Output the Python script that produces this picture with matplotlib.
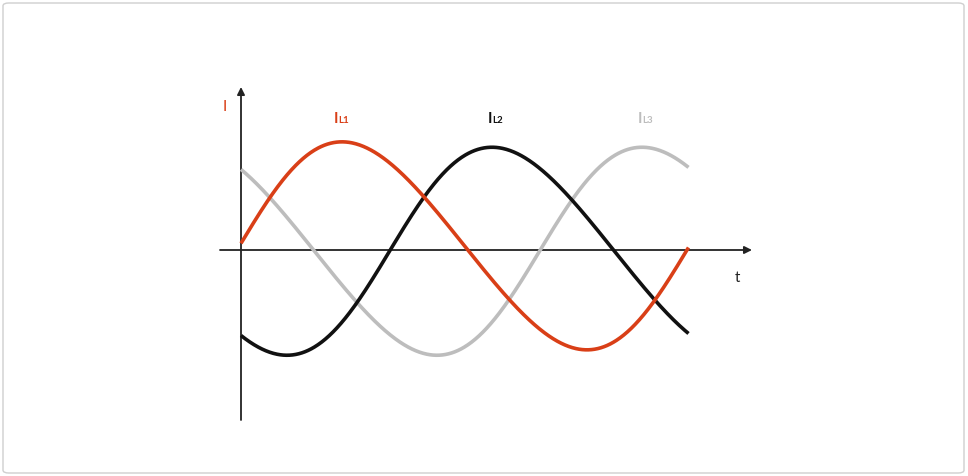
import numpy as np
import matplotlib
matplotlib.use("Agg")
import matplotlib.pyplot as plt
from matplotlib.patches import FancyBboxPatch

# ---- data (three-phase currents over one period, t in degrees) ----
series_names = ["L1", "L2", "L3"]
series_colors = ["#d93f17", "#111111", "#bdbdbd"]
phase_deg = [1.2, -118.8, 121.2]    # phase of each current at t = 0
amplitudes = [1.0, 1.0, 1.0]
offsets = [0.04, -0.012, -0.012]
skew = [0.141, 0.141, 0.141]        # waveform skew (rise faster than fall)
t_end_deg = 358
label_t_deg = [74.5, 197.5, 317.5]  # where the I_Lx labels sit (t)
label_level = 1.235

W, H = 968, 477
fig = plt.figure(figsize=(W / 100, H / 100), dpi=100)
fig.patch.set_facecolor("white")

# rounded frame
frame = FancyBboxPatch((3 / W, 3 / H), (W - 7) / W, (H - 7) / H,
                       boxstyle="round,pad=0,rounding_size=0.006",
                       transform=fig.transFigure, facecolor="none",
                       edgecolor="#cfcfcf", linewidth=1.0, zorder=-5)
fig.patches.append(frame)

# axes placement (pixels)
x0_px, x1_px = 220, 752
y_top_px, y_bot_px = 88, 421
px_per_deg = 450 / 360.0
amp_px = 104.0
axis_y_px = 251
t_min = (x0_px - 241) / px_per_deg
t_max = (x1_px - 241) / px_per_deg
y_max = (axis_y_px - y_top_px) / amp_px
y_min = (axis_y_px - y_bot_px) / amp_px

ax = fig.add_axes([x0_px / W, (H - y_bot_px) / H, (x1_px - x0_px) / W,
                   (y_bot_px - y_top_px) / H])
ax.set_zorder(5)
ax.set_xlim(t_min, t_max)
ax.set_ylim(y_min, y_max)
ax.axis("off")
ax.patch.set_alpha(0)

# axes arrows
axcol = "#222222"
ax.annotate("", xy=(t_max, 0), xytext=(t_min, 0), annotation_clip=False,
            arrowprops=dict(arrowstyle="-|>", color=axcol, lw=1.3,
                            mutation_scale=11, shrinkA=0, shrinkB=0))
ax.annotate("", xy=(0, y_max), xytext=(0, y_min), annotation_clip=False,
            arrowprops=dict(arrowstyle="-|>", color=axcol, lw=1.3,
                            mutation_scale=11, shrinkA=0, shrinkB=0))

# curves
t = np.linspace(0, t_end_deg, 721)
for i in [2, 1, 0]:
    th = np.radians(t + phase_deg[i])
    ph = th + skew[i] * np.sin(th)
    y = offsets[i] + amplitudes[i] * np.sin(ph)
    ax.plot(t, y, color=series_colors[i], lw=2.6, solid_capstyle="butt",
            zorder=3, clip_on=False)

# labels
font = ["Lato", "DejaVu Sans"]
for name, col, tl in zip(series_names, series_colors, label_t_deg):
    ax.annotate("I", xy=(tl, label_level), xycoords="data", color=col,
                fontsize=11, fontweight="bold", family=font,
                ha="left", va="baseline", annotation_clip=False)
    ax.annotate(name, xy=(tl, label_level), xycoords="data",
                xytext=(3.0, 0), textcoords="offset points", color=col,
                fontsize=7, fontweight="bold", family=font,
                ha="left", va="baseline", annotation_clip=False)

ax.text(-14.5, (axis_y_px - 111) / amp_px, "I", color="#d93f17",
        fontsize=11, family=font, ha="left", va="baseline")
ax.text((735 - 241) / px_per_deg, (axis_y_px - 282) / amp_px, "t",
        color="#222222", fontsize=11, family=font, ha="left", va="baseline")

fig.savefig("out.png", dpi=100, facecolor="white")
